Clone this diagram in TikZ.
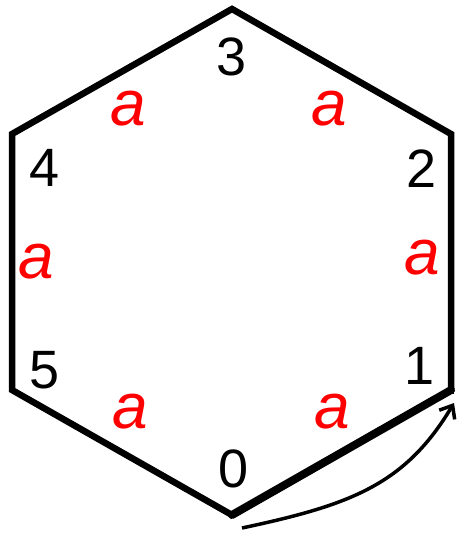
\documentclass[tikz,border=0pt]{standalone}
\usepackage{fontspec}
\setmainfont{Liberation Sans}
\usetikzlibrary{arrows.meta}
\begin{document}
\begin{tikzpicture}[x=1pt,y=-1pt,
  edge/.style={line width=6.5pt,line join=miter},
  num/.style={font=\fontsize{54}{54}\selectfont,inner sep=0pt},
  side/.style={font=\fontsize{64}{64}\selectfont\itshape,text=red,inner sep=0pt}]
\useasboundingbox (0,0) rectangle (456,534);
\coordinate (v0) at (232,515);
\coordinate (v1) at (451,390);
\coordinate (v2) at (451,134);
\coordinate (v3) at (232,9);
\coordinate (v4) at (12,134);
\coordinate (v5) at (12,390);
\draw[edge] (v0) -- (v5) -- (v4) -- (v3) -- (v2) -- (v1);
\draw[line width=8pt,line cap=round] (v0) -- (v1);
\draw[line width=6.5pt] (v1) -- ([yshift=-4pt]v1.center);
\node[num] (n0) at (234,469) {0};
\node[num] (n1) at (420,366) {1};
\node[num] (n2) at (422,169) {2};
\node[num] (n3) at (232,57) {3};
\node[num] (n4) at (45,168) {4};
\node[num] (n5) at (45,370) {5};
\node[side] (a01) at (332,412) {a};
\node[side] (a12) at (422,258) {a};
\node[side] (a23) at (329,109) {a};
\node[side] (a34) at (128,109) {a};
\node[side] (a45) at (36,262) {a};
\node[side] (a50) at (130,412) {a};
\coordinate (s) at (242,528);
\coordinate (t) at (454,403);
\draw[line width=3.5pt,-{Straight Barb[length=11pt,width=18pt]}] (s) .. controls (350,505) and (405,485) .. (t);
\end{tikzpicture}
\end{document}
